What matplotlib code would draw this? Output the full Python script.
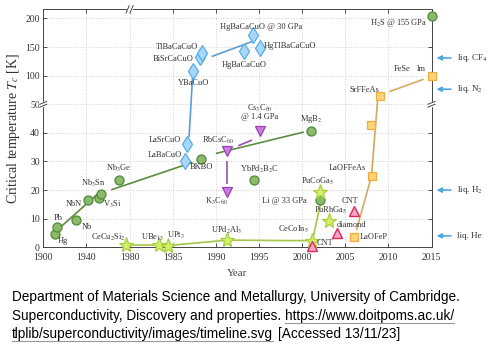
import numpy as np
import matplotlib
matplotlib.use('Agg')
import matplotlib.pyplot as plt
from matplotlib.lines import Line2D

plt.rcParams['font.family'] = ['Liberation Serif', 'DejaVu Serif']
plt.rcParams['mathtext.fontset'] = 'stix'

# ---------------- data ----------------
green_year = [1911, 1913, 1930, 1941, 1951.5, 1953.5, 1970.5, 1988.3, 1994.4, 2001.0, 2002.1, 2015.1]
green_tc = [4.5, 7.2, 9.5, 16.4, 17.4, 18.7, 23.7, 30.9, 23.6, 40.5, 16.4, 205]
green_lines = [[(1917, 7.4), (1952, 19.2)], [(1963, 20.1), (1987.3, 29.7)], [(1990, 32.8), (2000.2, 40.3)]]

blue_year = [1986.4, 1986.6, 1987.3, 1988.2, 1988.4, 1993.3, 1995.1, 1994.3]
blue_tc = [30.3, 36.1, 108.8, 132.3, 140.4, 143.9, 148.0, 171.4]
blue_lines = [[(1986.9, 38.5), (1987.3, 98)], [(1989.5, 133.4), (1994.2, 159.6)]]

purple_year = [1991.25, 1991.3, 1995.1]
purple_tc = [19.3, 33.5, 40.5]
purple_lines = [[(1991.25, 22.2), (1991.25, 30.3)], [(1992.6, 35.5), (1994.2, 37.5)]]

star_year = [1977.0, 1983.4, 1984.4, 1991.3, 2001.2, 2002.1, 2003.1]
star_tc = [0.8, 0.8, 0.6, 2.5, 2.3, 19.5, 9.2]
star_lines = [[(1977.0, 0.8), (1983.4, 0.8)], [(1984.4, 0.6), (1991.3, 2.5), (2001.2, 2.3), (2002.3, 17.7)]]

red_year = [2001.1, 2004.1, 2006.0]
red_tc = [0.6, 5.1, 12.7]

orange_year = [2006.0, 2008.1, 2008.0, 2009.0, 2015.1]
orange_tc = [3.5, 24.9, 42.7, 64.5, 100]
orange_lines = [[(2006.3, 6), (2008.05, 25), (2008.75, 57)], [(2010.1, 72), (2014.1, 93.8)]]

labels = [
    ("Hg", 1918.5, 2.3), ("Pb", 1913.9, 10.3), ("Nb", 1940.2, 7.0), ("NbN", 1927.8, 15.1),
    ("V$_3$Si", 1964.3, 15.0), ("Nb$_3$Sn", 1946.3, 22.4), ("Nb$_3$Ge", 1970.1, 27.6),
    ("CeCu$_2$Si$_2$", 1960.2, 3.5), ("UBe$_{13}$", 1982.7, 3.5), ("UPt$_3$", 1985.4, 4.0),
    ("LaBaCuO", 1984.1, 32.3), ("LaSrCuO", 1984.1, 37.5), ("BKBO", 1988.3, 28.2),
    ("RbCsC$_{60}$", 1990.3, 37.5), ("K$_3$C$_{60}$", 1990.1, 15.9),
    ("Cs$_3$C$_{60}$", 1995.1, 48.6), ("@ 1.4 GPa", 1995.1, 45.7), ("MgB$_2$", 2001.0, 44.8),
    ("YbPd$_2$B$_2$C", 1995.0, 27.3), ("Li @ 33 GPa", 1998.0, 16.3), ("PuCoGa$_5$", 2001.8, 22.9),
    ("PuRhGa$_5$", 2003.3, 13.0), ("CeCoIn$_5$", 1999.0, 6.3), ("UPd$_2$Al$_3$", 1991.3, 5.8),
    ("CNT", 2002.6, 1.6), ("diamond", 2005.7, 7.8), ("CNT", 2005.5, 16.3),
    ("LaOFeP", 2008.3, 3.7), ("LaOFFeAs", 2005.3, 27.6), ("SrFFeAs", 2007.2, 75),
    ("FeSe", 2011.6, 111.3), ("lm", 2013.8, 111.3), ("H$_2$S @ 155 GPa", 2011.2, 191.8),
    ("HgBaCaCuO @ 30 GPa", 1995.2, 185.9), ("HgTlBaCaCuO", 1998.6, 152.6),
    ("HgBaCaCuO", 1993.3, 118.8), ("TlBaCaCuO", 1985.5, 149.8), ("BiSrCaCuO", 1985.1, 128.8),
    ("YBaCuO", 1987.4, 87.8),
]

liquids = ["liq. CF$_4$", "liq. N$_2$", "liq. H$_2$", "liq. He"]
liquid_tc = [131, 76.3, 20, 4.0]

xticks = [1900, 1940, 1980, 1985, 1990, 1995, 2000, 2005, 2010, 2015]
yticks = [0, 10, 20, 30, 40, 50, 100, 150, 200]

# ---------------- piecewise scales ----------------
def fx(x):
    x = np.asarray(x, dtype=float)
    return np.where(x < 1980, (x - 1900) / 8.0, 10 + (x - 1980))

def fx_inv(u):
    u = np.asarray(u, dtype=float)
    return np.where(u < 10, 1900 + 8.0 * u, 1980 + (u - 10))

def fy(y):
    y = np.asarray(y, dtype=float)
    return np.where(y <= 50, y, 50 + (y - 50) / 5.0)

def fy_inv(v):
    v = np.asarray(v, dtype=float)
    return np.where(v <= 50, v, 50 + (v - 50) * 5.0)

W, H = 491, 345
fig = plt.figure(figsize=(W / 100, H / 100), dpi=100)
ax = fig.add_axes([43.3 / W, 1 - 247.3 / H, (431.5 - 43.3) / W, (247.3 - 9.3) / H])
ax.set_xscale('function', functions=(fx, fx_inv))
ax.set_yscale('function', functions=(fy, fy_inv))
ax.set_xlim(1900, 2015)
ax.set_ylim(0, 216)

ax.set_xticks(xticks)
ax.set_xticklabels([str(t) for t in xticks])
ax.set_yticks(yticks)
ax.set_yticklabels([str(t) for t in yticks])
ax.minorticks_off()
ax.tick_params(direction='in', length=3, width=0.6, top=True, right=True,
               labelsize=7, colors='#333333', pad=2.5)
ax.tick_params(axis='x', pad=3.8)
ax.grid(True, linestyle=(0, (1, 2)), color='#c4c4c4', linewidth=0.6)
ax.set_axisbelow(True)
for s in ax.spines.values():
    s.set_color('#444444')
    s.set_linewidth(0.7)

ax.set_xlabel('Year', fontsize=8, color='#444444', labelpad=5)
ax.set_ylabel('Critical temperature $T_c$ [K]', fontsize=10, color='#333333', labelpad=2)

def draw_lines(segs, color):
    for seg in segs:
        xs = [p[0] for p in seg]
        ys = [p[1] for p in seg]
        ax.plot(xs, ys, color=color, lw=1.2, zorder=2, solid_capstyle='butt')

draw_lines(green_lines, '#5e8c3e')
draw_lines(blue_lines, '#5a9fd4')
draw_lines(purple_lines, '#9c4fb4')
draw_lines(star_lines, '#a6c64a')
draw_lines(orange_lines, '#d4aa62')

ax.plot(green_year, green_tc, 'o', ms=6.5, mfc='#8cba6a', mec='#4f8a38', mew=0.9, zorder=3, clip_on=False)
ax.plot(blue_year, blue_tc, 'd', ms=8, mfc='#a9d7f7', mec='#58aee6', mew=0.9, zorder=3)
ax.plot(purple_year, purple_tc, 'v', ms=7.5, mfc='#c87ee0', mec='#9a3fb2', mew=0.9, zorder=3)
ax.plot(star_year, star_tc, '*', ms=11, mfc='#d4f06a', mec='#a8cf3e', mew=0.9, zorder=3, clip_on=False)
ax.plot(red_year, red_tc, '^', ms=7.5, mfc='#f6a6c0', mec='#e0275e', mew=1.0, zorder=3, clip_on=False)
ax.plot(orange_year, orange_tc, 's', ms=5.5, mfc='#ffd37a', mec='#f2ab3c', mew=0.9, zorder=3, clip_on=False)

for txt, x, y in labels:
    ax.text(x, y, txt, fontsize=6, ha='center', va='center', color='#333333', zorder=4)

# liquids at right
for txt, t in zip(liquids, liquid_tc):
    ax.annotate('', xy=(1.013, t), xytext=(1.05, t),
                xycoords=('axes fraction', 'data'), textcoords=('axes fraction', 'data'),
                arrowprops=dict(arrowstyle='-|>', color='#4ca6e0', lw=1.2,
                                mutation_scale=7, shrinkA=0, shrinkB=0))
    ax.text(1.065, t, txt, transform=ax.get_yaxis_transform(), fontsize=6.5,
            ha='left', va='center', color='#333333', clip_on=False)

# axis break marks
bx = float(fx(1980) / fx(2015))
by = float(fy(50) / fy(216))
def brk(x, y, horizontal):
    if horizontal:
        ax.add_patch(plt.Rectangle((x - 0.007, y - 0.01), 0.014, 0.02, transform=ax.transAxes,
                                   color='white', clip_on=False, zorder=5))
        for off in (-0.005, 0.005):
            ax.plot([x + off - 0.004, x + off + 0.004], [y - 0.015, y + 0.015],
                    transform=ax.transAxes, color='#444444', lw=0.7, clip_on=False, zorder=6)
    else:
        ax.add_patch(plt.Rectangle((x - 0.01, y - 0.008), 0.02, 0.016, transform=ax.transAxes,
                                   color='white', clip_on=False, zorder=5))
        for off in (-0.006, 0.006):
            ax.plot([x - 0.009, x + 0.009], [y + off - 0.006, y + off + 0.006],
                    transform=ax.transAxes, color='#444444', lw=0.7, clip_on=False, zorder=6)

brk(bx, 1.0, True)
brk(0.0, by, False)
brk(1.0, by, False)

# caption
cap_font = dict(family=['Liberation Sans', 'DejaVu Sans'], fontsize=9.8, color='black', va='baseline')
x0 = 12 / W
fig.text(x0, 1 - 301 / H, 'Department of Materials Science and Metallurgy, University of Cambridge.', **cap_font)
t2a = fig.text(x0, 1 - 320 / H, 'Superconductivity, Discovery and properties. ', **cap_font)
fig.canvas.draw()
r = fig.canvas.get_renderer()
bb = t2a.get_window_extent(r)
t2b = fig.text(bb.x1 / W, 1 - 320 / H, 'https://www.doitpoms.ac.uk/', **cap_font)
t3a = fig.text(x0, 1 - 338 / H, 'tlplib/superconductivity/images/timeline.svg', **cap_font)
fig.canvas.draw()
bb3 = t3a.get_window_extent(r)
fig.text(bb3.x1 / W + 5 / W, 1 - 338 / H, '[Accessed 13/11/23]', **cap_font)
for t, yb in ((t2b, 320), (t3a, 338)):
    b = t.get_window_extent(r)
    uy = 1 - (yb + 3) / H
    fig.add_artist(Line2D([b.x0 / W, b.x1 / W], [uy, uy], transform=fig.transFigure,
                          color='#999999', lw=0.8))

fig.savefig('out.png', dpi=100)
